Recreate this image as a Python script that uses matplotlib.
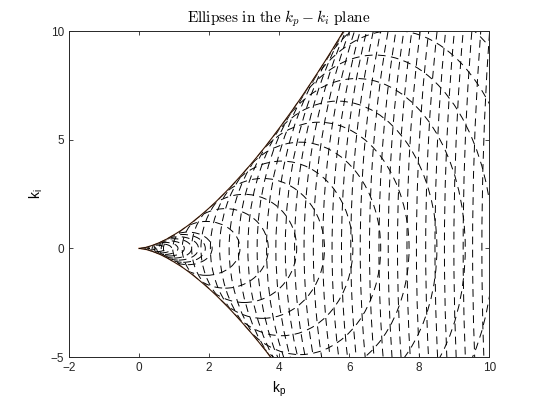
import numpy as np
import matplotlib
matplotlib.use('Agg')
import matplotlib.pyplot as plt
from matplotlib.patches import Ellipse

plt.rcParams['font.family'] = 'Liberation Sans'
plt.rcParams['mathtext.fontset'] = 'custom'
plt.rcParams['mathtext.rm'] = 'Liberation Sans'
plt.rcParams['mathtext.it'] = 'Liberation Sans'

# ellipses (centre on the kp axis, half width along kp, half height along ki)
kp_center = [0.12, 0.2, 0.32, 0.5, 0.62, 0.74, 0.86, 1.0, 1.13, 1.26, 1.39,
             1.92, 2.46, 3.0, 3.53, 4.07, 4.6, 5.14, 5.67, 6.21, 6.74,
             7.28, 7.81, 8.35, 8.88, 9.42, 9.95, 10.49, 11.02, 11.56, 12.09,
             12.63, 13.16, 13.7, 14.23, 14.76, 15.3, 15.84, 16.37, 16.9, 17.44,
             17.98, 18.51, 19.05, 19.58, 20.12]
kp_half = [0.06, 0.1, 0.16, 0.25, 0.31, 0.37, 0.43, 0.5, 0.565, 0.63, 0.695,
           0.96, 1.23, 1.5, 1.765, 2.035, 2.3, 2.57, 2.835, 3.105, 3.37,
           3.64, 3.905, 4.175, 4.44, 4.71, 4.975, 5.245, 5.51, 5.78, 6.045,
           6.315, 6.58, 6.85, 7.115, 7.38, 7.65, 7.92, 8.185, 8.45, 8.72,
           8.99, 9.255, 9.525, 9.79, 10.06]
ki_half = [0.016, 0.036, 0.07, 0.15, 0.21, 0.277, 0.35, 0.445, 0.539, 0.64, 0.75,
           1.24, 1.83, 2.49, 3.22, 4.02, 4.89, 5.81, 6.78, 7.82, 8.9,
           10.03, 11.22, 12.45, 13.72, 15.04, 16.4, 17.81, 19.26, 20.74, 22.27,
           23.84, 25.44, 27.09, 28.77, 30.48, 32.23, 34.02, 35.84, 37.7, 39.59,
           41.51, 43.47, 45.46, 47.48, 49.53]

# boundary of the region covered by the ellipses
kp_env = [0.0, 0.2, 0.4, 0.6, 0.8, 1.0, 1.2, 1.4, 1.6, 1.8, 2.0, 2.2, 2.4, 2.6,
          2.8, 3.0, 3.2, 3.4, 3.6, 3.8, 4.0, 4.2, 4.4, 4.6, 4.8, 5.0, 5.2, 5.4,
          5.6, 5.8, 6.0, 6.2]
ki_env = [0.0, 0.05, 0.15, 0.28, 0.44, 0.63, 0.83, 1.06, 1.31, 1.58, 1.86, 2.16,
          2.48, 2.81, 3.16, 3.52, 3.89, 4.28, 4.68, 5.1, 5.53, 5.97, 6.42, 6.88,
          7.36, 7.85, 8.34, 8.85, 9.37, 9.9, 10.45, 11.0]

fig = plt.figure(figsize=(5.4, 4.05), dpi=100)
ax = fig.add_axes([0.128, 0.1185, 0.778, 0.8045])

ki_env = np.array(ki_env)
ax.plot(kp_env, ki_env, color='#f0a070', lw=1.1, alpha=0.7)
ax.plot(kp_env, -ki_env, color='#f0a070', lw=1.1, alpha=0.7)
ax.plot(kp_env, ki_env, color='k', lw=0.6)
ax.plot(kp_env, -ki_env, color='k', lw=0.6)

for c, w, h in zip(kp_center, kp_half, ki_half):
    ax.add_patch(Ellipse((c, 0), 2 * w, 2 * h, fill=False, lw=0.7,
                         ls=(0, (8, 5.5)), ec='k'))

ax.set_xlim(-2, 10)
ax.set_ylim(-5, 10)
ax.set_xticks(range(-2, 11, 2))
ax.set_yticks([-5, 0, 5, 10])
ax.tick_params(direction='in', length=3, top=True, right=True, labelsize=8.5,
               colors='#262626', width=0.6)
for sp in ax.spines.values():
    sp.set_color('#262626')
    sp.set_linewidth(0.7)
ax.set_xlabel('k$_\\mathrm{p}$', fontsize=10)
ax.set_ylabel('k$_\\mathrm{i}$', fontsize=10)
ax.set_title(r'$\mathrm{Ellipses\ in\ the\ }k_p - k_i\mathrm{\ plane}$',
             math_fontfamily='cm', fontsize=11)
fig.savefig('out.png')
